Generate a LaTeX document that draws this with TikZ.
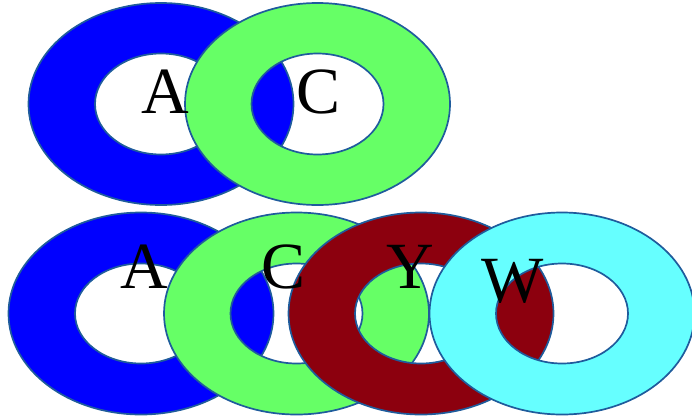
\documentclass[tikz,border=0pt]{standalone}
\usepackage{fontspec}
\setmainfont{Liberation Serif}
\definecolor{ringline}{HTML}{1F5C9C}
\definecolor{ringblue}{HTML}{0000FF}
\definecolor{ringgreen}{HTML}{66FF66}
\definecolor{ringred}{HTML}{8C000E}
\definecolor{ringcyan}{HTML}{66FFFF}
\tikzset{
  ring/.style={draw=ringline, line width=1.7pt, even odd rule},
  lbl/.style={inner sep=0pt, anchor=base, font=\fontsize{66}{66}\selectfont}
}
\begin{document}
\begin{tikzpicture}[x=1pt,y=-1pt]
\useasboundingbox (0,0) rectangle (692,418);
% top row
\path[ring, fill=ringblue] (161,104) ellipse [x radius=132.5, y radius=101] (161,104) ellipse [x radius=66, y radius=50.5];
\path[ring, fill=ringgreen] (317.5,104) ellipse [x radius=132.5, y radius=101] (317.5,104) ellipse [x radius=66, y radius=50.5];
% bottom row
\path[ring, fill=ringblue] (141,313.5) ellipse [x radius=132.5, y radius=101] (141,313.5) ellipse [x radius=66, y radius=50];
\path[ring, fill=ringgreen] (296.5,313.5) ellipse [x radius=132.5, y radius=101] (296.5,313.5) ellipse [x radius=66, y radius=50];
\path[ring, fill=ringred] (421,313.5) ellipse [x radius=132.5, y radius=101] (421,313.5) ellipse [x radius=66, y radius=50];
\path[ring, fill=ringcyan] (562,313.5) ellipse [x radius=132.5, y radius=101] (562,313.5) ellipse [x radius=66, y radius=50];
% labels
\node[lbl] (tA) at (165,113) {A};
\node[lbl] (tC) at (319,113) {C};
\node[lbl] (bA) at (144.5,288) {A};
\node[lbl] (bC) at (284,288) {C};
\node[lbl] (bY) at (410.5,288) {Y};
\node[lbl] (bW) at (512.5,302) {W};
\end{tikzpicture}
\end{document}
